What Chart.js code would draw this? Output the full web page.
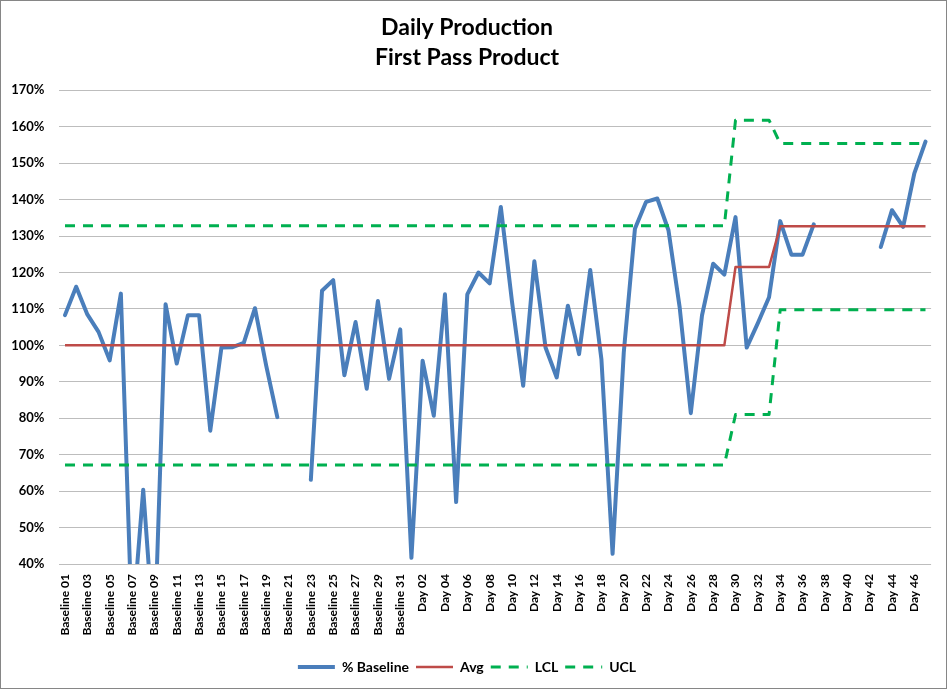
<!DOCTYPE html>
<html>
<head>
<meta charset="utf-8">
<title>Daily Production - First Pass Product</title>
<script src="https://cdn.jsdelivr.net/npm/chart.js@4.4.1/dist/chart.umd.min.js"></script>
<style>
  html, body { margin: 0; padding: 0; background: #fff; }
  #wrap { position: relative; width: 950px; height: 690px; }
  #frame { position: absolute; left: 0; top: 0; width: 947px; height: 689px; box-sizing: border-box; border: 1px solid #868686; pointer-events: none; }
</style>
</head>
<body>
<div id="wrap">
  <canvas id="chart" width="950" height="690"></canvas>
  <div id="frame"></div>
</div>
<script>
// --- data ---
const categories = [];
for (let i = 1; i <= 31; i++) categories.push('Baseline ' + String(i).padStart(2, '0'));
for (let i = 1; i <= 47; i++) categories.push('Day ' + String(i).padStart(2, '0'));

const yTicks = [40, 50, 60, 70, 80, 90, 100, 110, 120, 130, 140, 150, 160, 170];

const pctBaseline = [
  108.3, 116.1, 108.5, 103.7, 95.9, 114.2, 22, 60.4, 18, 111.3,      // Baseline 01-10
  95.0, 108.3, 108.3, 76.6, 99.4, 99.5, 100.7, 110.2, 94.5, 80.3,    // Baseline 11-20
  null, null, 63.1, 115.0, 117.9, 91.8, 106.4, 88.1, 112.2, 90.8,    // Baseline 21-30
  104.4,                                                             // Baseline 31
  41.7, 95.8, 80.7, 114.0, 57.0, 114.0, 120.0, 117.0, 138.0, 112.0,  // Day 01-10
  88.9, 123.1, 99.4, 91.2, 110.9, 97.6, 120.7, 96.2, 42.8, 98.0,     // Day 11-20
  132.0, 139.4, 140.3, 131.6, 110.5, 81.4, 108.2, 122.4, 119.4, 135.2, // Day 21-30
  99.4, 106.1, 113.2, 134.1, 124.9, 124.9, 133.2, null, null, null,  // Day 31-40
  null, null, 127.0, 137.1, 132.5, 147.2, 155.9                      // Day 41-47
];

const avg = [
  100, 100, 100, 100, 100, 100, 100, 100, 100, 100,
  100, 100, 100, 100, 100, 100, 100, 100, 100, 100,
  100, 100, 100, 100, 100, 100, 100, 100, 100, 100,
  100,
  100, 100, 100, 100, 100, 100, 100, 100, 100, 100,
  100, 100, 100, 100, 100, 100, 100, 100, 100, 100,
  100, 100, 100, 100, 100, 100, 100, 100, 100, 121.5,
  121.5, 121.5, 121.5, 132.7, 132.7, 132.7, 132.7, 132.7, 132.7, 132.7,
  132.7, 132.7, 132.7, 132.7, 132.7, 132.7, 132.7
];

const lcl = [
  67.2, 67.2, 67.2, 67.2, 67.2, 67.2, 67.2, 67.2, 67.2, 67.2,
  67.2, 67.2, 67.2, 67.2, 67.2, 67.2, 67.2, 67.2, 67.2, 67.2,
  67.2, 67.2, 67.2, 67.2, 67.2, 67.2, 67.2, 67.2, 67.2, 67.2,
  67.2,
  67.2, 67.2, 67.2, 67.2, 67.2, 67.2, 67.2, 67.2, 67.2, 67.2,
  67.2, 67.2, 67.2, 67.2, 67.2, 67.2, 67.2, 67.2, 67.2, 67.2,
  67.2, 67.2, 67.2, 67.2, 67.2, 67.2, 67.2, 67.2, 67.2, 81.0,
  81.0, 81.0, 81.0, 109.8, 109.8, 109.8, 109.8, 109.8, 109.8, 109.8,
  109.8, 109.8, 109.8, 109.8, 109.8, 109.8, 109.8
];

const ucl = [
  132.8, 132.8, 132.8, 132.8, 132.8, 132.8, 132.8, 132.8, 132.8, 132.8,
  132.8, 132.8, 132.8, 132.8, 132.8, 132.8, 132.8, 132.8, 132.8, 132.8,
  132.8, 132.8, 132.8, 132.8, 132.8, 132.8, 132.8, 132.8, 132.8, 132.8,
  132.8,
  132.8, 132.8, 132.8, 132.8, 132.8, 132.8, 132.8, 132.8, 132.8, 132.8,
  132.8, 132.8, 132.8, 132.8, 132.8, 132.8, 132.8, 132.8, 132.8, 132.8,
  132.8, 132.8, 132.8, 132.8, 132.8, 132.8, 132.8, 132.8, 132.8, 161.8,
  161.8, 161.8, 161.8, 155.4, 155.4, 155.4, 155.4, 155.4, 155.4, 155.4,
  155.4, 155.4, 155.4, 155.4, 155.4, 155.4, 155.4
];

Chart.defaults.font.family = 'Lato, "Open Sans", sans-serif';
Chart.defaults.color = '#000';

const lineStyle = {
  pointRadius: 0,
  pointHoverRadius: 0,
  tension: 0,
  fill: false,
  spanGaps: false,
  borderJoinStyle: 'round',
  clip: { left: 6, right: 6, top: 6, bottom: 0 }
};

new Chart(document.getElementById('chart'), {
  type: 'line',
  data: {
    labels: categories,
    datasets: [
      { ...lineStyle, label: '% Baseline', data: pctBaseline, borderColor: '#4A7EBB', borderWidth: 4, borderCapStyle: 'round', order: 3 },
      { ...lineStyle, label: 'Avg', data: avg, borderColor: '#BE4B48', borderWidth: 2.5, order: 2 },
      { ...lineStyle, label: 'LCL', data: lcl, borderColor: '#00B050', borderWidth: 3, borderDash: [10, 8], order: 1 },
      { ...lineStyle, label: 'UCL', data: ucl, borderColor: '#00B050', borderWidth: 3, borderDash: [10, 8], order: 0 }
    ]
  },
  options: {
    responsive: false,
    animation: false,
    events: [],
    layout: { padding: { top: 0, right: 16, bottom: 6, left: 0 } },
    plugins: {
      title: {
        display: true,
        text: ['Daily Production', 'First Pass Product'],
        color: '#000',
        font: { size: 23, weight: 'bold', lineHeight: '30px' },
        padding: { top: 13, bottom: 17.3 }
      },
      legend: {
        position: 'bottom',
        labels: {
          usePointStyle: true,
          pointStyleWidth: 37,
          padding: 7,
          font: { size: 14, weight: 'bold' },
          generateLabels: chart => chart.data.datasets.map((ds, i) => ({
            text: ds.label,
            fillStyle: ds.borderColor,
            strokeStyle: ds.borderColor,
            lineWidth: ds.borderWidth,
            lineDash: ds.borderDash || [],
            lineCap: 'butt',
            pointStyle: 'line',
            fontColor: '#000',
            hidden: false,
            datasetIndex: i
          }))
        }
      },
      tooltip: { enabled: false }
    },
    scales: {
      x: {
        offset: true,
        grid: { display: false, drawTicks: false },
        border: { display: false },
        ticks: {
          autoSkip: false,
          maxRotation: 90,
          minRotation: 90,
          padding: 10,
          font: { size: 12, weight: 'bold' },
          callback: (val, idx) => idx % 2 === 0 ? categories[idx] : ''
        },
        afterFit: s => { s.height = 89; }
      },
      y: {
        min: yTicks[0],
        max: yTicks[yTicks.length - 1],
        afterBuildTicks: axis => { axis.ticks = yTicks.map(v => ({ value: v })); },
        grid: { color: '#BDBDBD', lineWidth: 1, drawTicks: false },
        border: { display: false },
        ticks: {
          padding: 15,
          font: { size: 13, weight: 'bold' },
          callback: v => v + '%'
        },
        afterFit: s => { s.width = 59.4; }
      }
    }
  }
});
</script>
</body>
</html>
